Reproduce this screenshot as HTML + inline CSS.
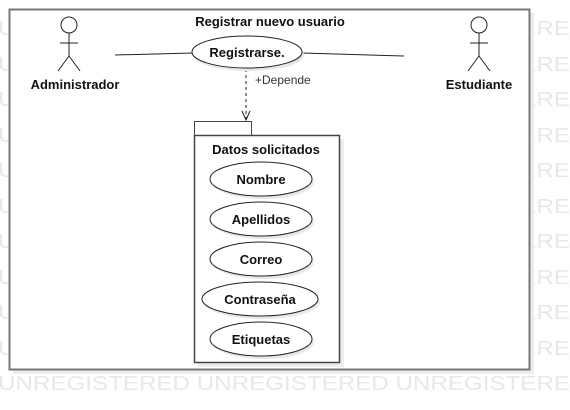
<!DOCTYPE html>
<html><head><style>html,body{margin:0;padding:0;background:#fff;width:570px;height:410px;overflow:hidden}</style></head>
<body>
<svg width="570" height="410" xmlns="http://www.w3.org/2000/svg" font-family="Liberation Sans, sans-serif">
<g fill="#e8e8e8" font-size="20">
<text x="-2" y="35" textLength="572" lengthAdjust="spacingAndGlyphs">UNREGISTERED UNREGISTERED UNREGISTERE</text>
<text x="-2" y="71" textLength="572" lengthAdjust="spacingAndGlyphs">UNREGISTERED UNREGISTERED UNREGISTERE</text>
<text x="-2" y="106" textLength="572" lengthAdjust="spacingAndGlyphs">UNREGISTERED UNREGISTERED UNREGISTERE</text>
<text x="-2" y="142" textLength="572" lengthAdjust="spacingAndGlyphs">UNREGISTERED UNREGISTERED UNREGISTERE</text>
<text x="-2" y="177" textLength="572" lengthAdjust="spacingAndGlyphs">UNREGISTERED UNREGISTERED UNREGISTERE</text>
<text x="-2" y="213" textLength="572" lengthAdjust="spacingAndGlyphs">UNREGISTERED UNREGISTERED UNREGISTERE</text>
<text x="-2" y="248" textLength="572" lengthAdjust="spacingAndGlyphs">UNREGISTERED UNREGISTERED UNREGISTERE</text>
<text x="-2" y="284" textLength="572" lengthAdjust="spacingAndGlyphs">UNREGISTERED UNREGISTERED UNREGISTERE</text>
<text x="-2" y="319" textLength="572" lengthAdjust="spacingAndGlyphs">UNREGISTERED UNREGISTERED UNREGISTERE</text>
<text x="-2" y="355" textLength="572" lengthAdjust="spacingAndGlyphs">UNREGISTERED UNREGISTERED UNREGISTERE</text>
<text x="-2" y="390" textLength="572" lengthAdjust="spacingAndGlyphs">UNREGISTERED UNREGISTERED UNREGISTERE</text>
</g>
<rect x="13" y="13" width="521" height="361" fill="#ececec"/>
<rect x="9.5" y="9.5" width="520" height="360" fill="#fff" stroke="#777" stroke-width="2"/>
<text x="270" y="26" font-size="13" font-weight="bold" text-anchor="middle" fill="#111">Registrar nuevo usuario</text>
<g stroke="#222" stroke-width="1" fill="none">
<line x1="115" y1="55" x2="193" y2="53"/>
<line x1="302" y1="53" x2="404" y2="56"/>
<circle cx="69" cy="25" r="8"/><line x1="69" y1="33" x2="69" y2="56"/><line x1="60" y1="43" x2="78" y2="43"/><line x1="69" y1="56" x2="58" y2="71"/><line x1="69" y1="56" x2="80" y2="71"/>
<circle cx="479" cy="25" r="8"/><line x1="479" y1="33" x2="479" y2="56"/><line x1="470" y1="43" x2="488" y2="43"/><line x1="479" y1="56" x2="468" y2="71"/><line x1="479" y1="56" x2="490" y2="71"/>
<line x1="246" y1="69" x2="246" y2="120" stroke-dasharray="3,3"/>
<polyline points="242,111 246,120 250,111"/>
</g>
<ellipse cx="249" cy="55" rx="55" ry="16" fill="#e6e6e6"/>
<ellipse cx="247" cy="52" rx="55" ry="16" fill="#fff" stroke="#222"/>
<text x="247" y="57" font-size="13" font-weight="bold" text-anchor="middle" fill="#111">Registrarse.</text>
<text x="75" y="89" font-size="13" font-weight="bold" text-anchor="middle" fill="#111">Administrador</text>
<text x="479" y="89" font-size="13" font-weight="bold" text-anchor="middle" fill="#111">Estudiante</text>
<text x="255" y="84" font-size="12" fill="#333">+Depende</text>
<rect x="198" y="139" width="146" height="228" fill="#ececec"/>
<rect x="194.5" y="121.5" width="57" height="14" fill="#fff" stroke="#444"/>
<rect x="194.5" y="135.5" width="145" height="227" fill="#fff" stroke="#444" stroke-width="1.5"/>
<text x="266" y="154" font-size="13" font-weight="bold" text-anchor="middle" fill="#111">Datos solicitados</text>
<g font-size="13" font-weight="bold" text-anchor="middle" fill="#111">
<ellipse cx="263" cy="182" rx="51" ry="17" fill="#e8e8e8"/><ellipse cx="261" cy="179" rx="51" ry="17" fill="#fff" stroke="#222"/><text x="261" y="184">Nombre</text>
<ellipse cx="263" cy="222" rx="51" ry="17" fill="#e8e8e8"/><ellipse cx="261" cy="219" rx="51" ry="17" fill="#fff" stroke="#222"/><text x="261" y="224">Apellidos</text>
<ellipse cx="263" cy="262" rx="51" ry="17" fill="#e8e8e8"/><ellipse cx="261" cy="259" rx="51" ry="17" fill="#fff" stroke="#222"/><text x="261" y="264">Correo</text>
<ellipse cx="262" cy="302" rx="58" ry="17" fill="#e8e8e8"/><ellipse cx="260" cy="299" rx="58" ry="17" fill="#fff" stroke="#222"/><text x="260" y="304">Contraseña</text>
<ellipse cx="263" cy="342" rx="51" ry="17" fill="#e8e8e8"/><ellipse cx="261" cy="339" rx="51" ry="17" fill="#fff" stroke="#222"/><text x="261" y="344">Etiquetas</text>
</g>
</svg>
</body></html>
